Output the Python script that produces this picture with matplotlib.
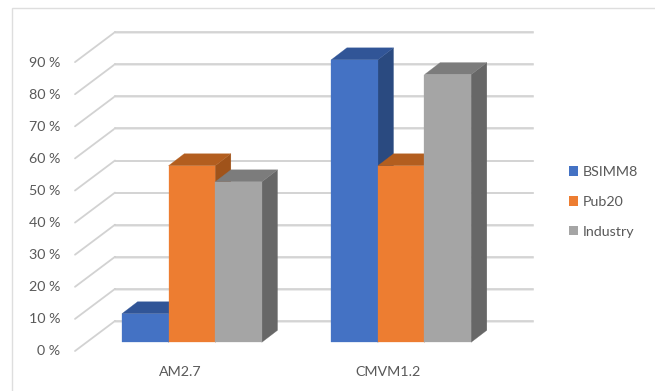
import matplotlib
matplotlib.use("Agg")
import matplotlib.pyplot as plt
from matplotlib.patches import Patch, Polygon, Rectangle

categories = ["AM2.7", "CMVM1.2"]
series_names = ["BSIMM8", "Pub20", "Industry"]
bsimm8 = [8.9, 88.0]
pub20 = [55.0, 55.0]
industry = [50.0, 83.4]
tick_values = [0, 10, 20, 30, 40, 50, 60, 70, 80, 90]

WIDTH, HEIGHT = 655, 391
PX_X = 209.3          # pixels per category step
PX_Y = 3.21           # pixels per percentage point
X0_PX = 191.85        # pixel column of the first category centre
Y0_PX = 342.3         # pixel row of the 0 % bar baseline
FONT_SIZE = 10.3

front_colors = ["#4472C4", "#ED7D31", "#A5A5A5"]
top_colors = ["#315597", "#B35E1F", "#7C7C7C"]
side_colors = ["#2A4A80", "#A0531A", "#676767"]
text_color = "#595959"

plt.rcParams["font.family"] = ["Lato", "DejaVu Sans"]

fig = plt.figure(figsize=(WIDTH / 100, HEIGHT / 100), dpi=100, facecolor="white")
ax = fig.add_axes([0, 0, 1, 1])
ax.set_xlim(-X0_PX / PX_X, (WIDTH - X0_PX) / PX_X)
ax.set_ylim((Y0_PX - HEIGHT) / PX_Y, Y0_PX / PX_Y)
ax.axis("off")


def dx(px):
    return px / PX_X


def dy(px):
    return px / PX_Y


# Outer chart frame, open towards the right and bottom edges
frame_x = dx(11.5) + ax.get_xlim()[0]
frame_y = ax.get_ylim()[1] - dy(7.5)
ax.plot([frame_x, frame_x, ax.get_xlim()[1]], [ax.get_ylim()[0], frame_y, frame_y],
        color="#DEDEDE", lw=1.0, solid_joinstyle="miter", zorder=1)

# Gridlines run along the side wall and then across the back wall
wall_left = dx(75 - X0_PX)
back_left = dx(115 - X0_PX)
back_right = dx(533 - X0_PX)
front_offset = dy(Y0_PX - 351)
back_offset = dy(Y0_PX - 321)
for value in tick_values:
    ax.plot([wall_left, back_left], [value + front_offset, value + back_offset],
            color="#D2D2D2", lw=1.3, solid_capstyle="round", zorder=2)
    ax.plot([back_left, back_right], [value + back_offset - dy(0.8)] * 2,
            color="#E6E6E6", lw=1.1, zorder=2)
    ax.plot([back_left, back_right], [value + back_offset] * 2,
            color="#CDCDCD", lw=1.1, zorder=2)
    ax.text(dx(60.5 - X0_PX), value + front_offset - dy(-0.6), f"{value} %",
            ha="right", va="center_baseline", fontsize=FONT_SIZE, color=text_color, zorder=5)

# Bars are painted left to right so that later faces cover earlier ones
bar_width = 46.65 / PX_X
depth_x = dx(15.7)
depth_y = dy(12)
series_values = [bsimm8, pub20, industry]
z = 3.0
for c, category in enumerate(categories):
    for s, values in enumerate(series_values):
        left = c + (s - 1.5) * bar_width
        right = left + bar_width
        top = values[c]
        ax.add_patch(Polygon([(right, 0), (right + depth_x, depth_y),
                              (right + depth_x, top + depth_y), (right, top)],
                             facecolor=side_colors[s], edgecolor=side_colors[s],
                             lw=0.2, zorder=z))
        ax.add_patch(Polygon([(left, top), (right, top),
                              (right + depth_x, top + depth_y), (left + depth_x, top + depth_y)],
                             facecolor=top_colors[s], edgecolor=top_colors[s],
                             lw=0.2, zorder=z))
        ax.add_patch(Rectangle((left, 0), bar_width, top,
                               facecolor=front_colors[s], edgecolor=front_colors[s],
                               lw=0.2, zorder=z + 0.1))
        z += 0.2
    ax.text(c + dx(-12 if c == 0 else -13.5), dy(Y0_PX - 371.5), category,
            ha="center", va="center_baseline", fontsize=FONT_SIZE, color=text_color)

handles = [Patch(facecolor=col, edgecolor="none") for col in front_colors]
legend = ax.legend(handles, series_names, loc="center left",
                   bbox_to_anchor=(569 / WIDTH, 1 - 202 / HEIGHT),
                   frameon=False, fontsize=FONT_SIZE, labelcolor=text_color,
                   handlelength=0.63, handleheight=0.63, handletextpad=0.3,
                   labelspacing=1.245, borderpad=0, borderaxespad=0)

fig.savefig("out.png", dpi=100, facecolor="white")
